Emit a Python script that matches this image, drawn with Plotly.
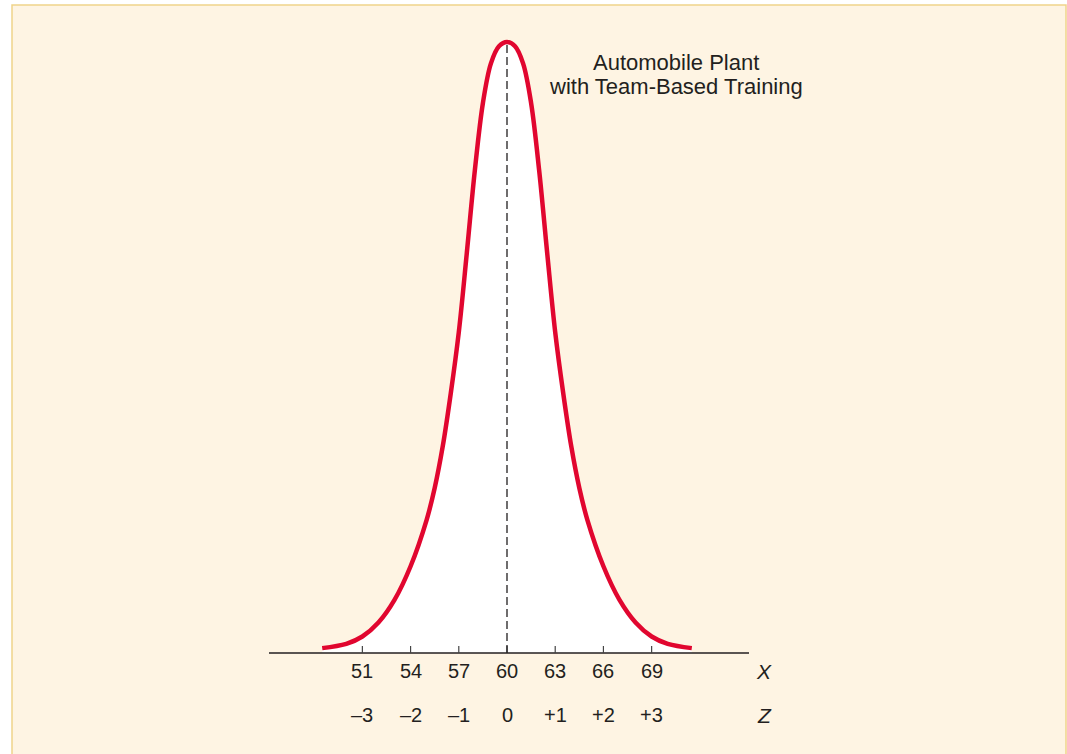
import plotly.graph_objects as go

# ---- data ----
x_values = [48.5, 50.0, 51.0, 52.0, 53.0, 54.0, 55.0, 55.5, 56.0, 56.5, 57.0, 57.5, 58.0, 58.5, 59.0, 59.5,
            60.0, 60.5, 61.0, 61.5, 62.0, 62.5, 63.0, 63.5, 64.0, 64.5, 65.0, 66.0, 67.0, 68.0, 69.0, 70.0, 71.5]
heights = [0.008, 0.015, 0.027, 0.05, 0.087, 0.142, 0.218, 0.27, 0.338, 0.425, 0.525, 0.655, 0.79, 0.9, 0.965, 0.993,
           1.0, 0.993, 0.965, 0.9, 0.79, 0.655, 0.525, 0.425, 0.338, 0.27, 0.218, 0.142, 0.087, 0.05, 0.027, 0.015, 0.008]
mean_x = 60
peak_height = 1.0
x_ticks = [51, 54, 57, 60, 63, 66, 69]
x_tick_labels = ["51", "54", "57", "60", "63", "66", "69"]
z_tick_labels = ["\u20133", "\u20132", "\u20131", "0", "+1", "+2", "+3"]
axis_start, axis_end = 45.19, 75.06
label_line1 = "Automobile Plant"
label_line2 = "with Team-Based Training"

# ---- styling ----
RED = "#E1062F"
INK = "#231F20"
CREAM = "#FEF4E3"
BORDER = "#F0D38A"
FONT = "Liberation Sans, Arial, Helvetica, sans-serif"

W, H = 1067, 754
px_per_unit = 16.07
px_per_height = 611.0
x0 = mean_x - 507 / px_per_unit
x1 = x0 + W / px_per_unit
y0 = -(H - 653) / px_per_height
y1 = 653 / px_per_height

fig = go.Figure()

fig.add_trace(go.Scatter(
    x=x_values, y=heights, mode="lines",
    line=dict(color=RED, width=4.5, shape="spline", smoothing=1.0),
    fill="tozeroy", fillcolor="white", hoverinfo="skip", showlegend=False,
))

shapes = []
shapes.append(dict(type="rect", xref="paper", yref="paper",
                   x0=12 / W, x1=1066 / W, y0=-0.02, y1=1 - 5 / H,
                   fillcolor=CREAM, line=dict(color=BORDER, width=1.5), layer="below"))
shapes.append(dict(type="line", xref="x", yref="y", x0=axis_start, x1=axis_end, y0=0, y1=0,
                   line=dict(color=INK, width=1.5)))
for t in x_ticks:
    shapes.append(dict(type="line", xref="x", yref="y", x0=t, x1=t, y0=0, y1=7 / px_per_height,
                       line=dict(color="#444444", width=1.2)))
shapes.append(dict(type="line", xref="x", yref="y", x0=mean_x, x1=mean_x, y0=0, y1=peak_height,
                   line=dict(color=INK, width=1.3, dash="8px,4px")))

annotations = []
row_x = -(671 - 653) / px_per_height
row_z = -(715 - 653) / px_per_height
for t, xl, zl in zip(x_ticks, x_tick_labels, z_tick_labels):
    annotations.append(dict(x=t, y=row_x, xref="x", yref="y", text=xl, showarrow=False,
                            xanchor="center", yanchor="middle", font=dict(size=20, color=INK, family=FONT)))
    annotations.append(dict(x=t, y=row_z, xref="x", yref="y", text=zl, showarrow=False,
                            xanchor="center", yanchor="middle", font=dict(size=20, color=INK, family=FONT)))
lab_x = mean_x + (764 - 507) / px_per_unit
annotations.append(dict(x=lab_x, y=row_x, xref="x", yref="y", text="<i>X</i>", showarrow=False,
                        xanchor="center", yanchor="middle", font=dict(size=21, color=INK, family=FONT)))
annotations.append(dict(x=lab_x, y=row_z, xref="x", yref="y", text="<i>Z</i>", showarrow=False,
                        xanchor="center", yanchor="middle", font=dict(size=21, color=INK, family=FONT)))
title_x = mean_x + (676 - 507) / px_per_unit
annotations.append(dict(x=title_x, y=(653 - 62) / px_per_height, xref="x", yref="y", text=label_line1,
                        showarrow=False, xanchor="center", yanchor="middle",
                        font=dict(size=22, color=INK, family=FONT)))
annotations.append(dict(x=title_x, y=(653 - 86) / px_per_height, xref="x", yref="y", text=label_line2,
                        showarrow=False, xanchor="center", yanchor="middle",
                        font=dict(size=22, color=INK, family=FONT)))

fig.update_layout(
    width=W, height=H, autosize=False,
    margin=dict(l=0, r=0, t=0, b=0, pad=0),
    paper_bgcolor="white", plot_bgcolor="white",
    xaxis=dict(range=[x0, x1], visible=False, fixedrange=True),
    yaxis=dict(range=[y0, y1], visible=False, fixedrange=True),
    shapes=shapes, annotations=annotations, showlegend=False,
)

fig.write_html("out.html", config={"displayModeBar": False},
               post_script="document.body.style.margin='0';document.body.style.overflow='hidden';")
